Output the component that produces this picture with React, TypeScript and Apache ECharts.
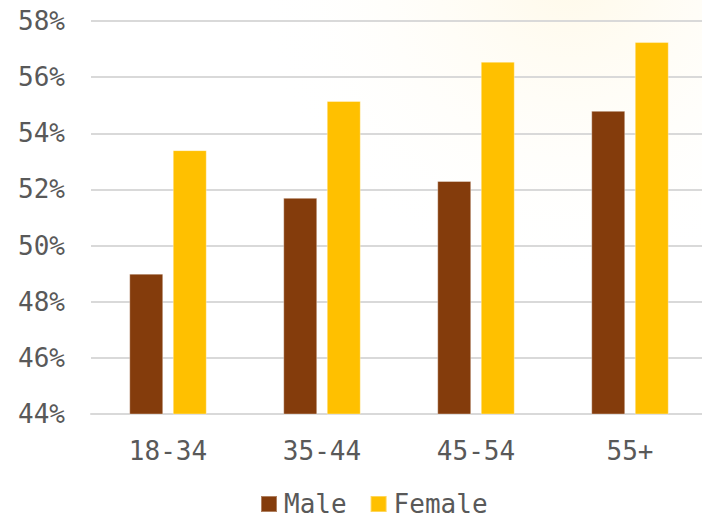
import React, { useEffect, useRef } from "react";
import * as echarts from "echarts";

const categories = ["18-34", "35-44", "45-54", "55+"];
const maleValues = [49.0, 51.7, 52.3, 54.8];
const femaleValues = [53.4, 55.15, 56.55, 57.25];
const seriesNames = ["Male", "Female"];

const FONT = "'DejaVu Sans Mono', 'Liberation Mono', monospace";

export default function App() {
  const ref = useRef<HTMLDivElement>(null);
  useEffect(() => {
    document.body.style.margin = "0";
    document.body.style.overflow = "hidden";
    if (!ref.current) return;
    const chart = echarts.init(ref.current, undefined, { renderer: "svg" });
    chart.setOption({
      animation: false,
      backgroundColor: "#ffffff",
      textStyle: { fontFamily: FONT },
      graphic: [
        {
          type: "circle",
          silent: true,
          z: -10,
          shape: { cx: 570, cy: -30, r: 320 },
          style: {
            fill: new echarts.graphic.RadialGradient(0.5, 0.5, 0.5, [
              { offset: 0, color: "rgba(255,236,180,0.3)" },
              { offset: 0.5, color: "rgba(255,245,215,0.15)" },
              { offset: 1, color: "rgba(255,255,255,0)" },
            ]),
          },
        },
      ],
      grid: {
        left: 91,
        width: 616,
        top: 21,
        height: 393,
        containLabel: false,
        outerBoundsMode: "none",
      },
      legend: {
        data: seriesNames,
        left: 260,
        top: 491,
        itemWidth: 16,
        itemHeight: 16,
        itemGap: 23,
        padding: 0,
        icon: "rect",
        textStyle: {
          fontFamily: FONT,
          fontSize: 26,
          color: "#595959",
          lineHeight: 24,
          padding: [0, 0, 0, 2],
        },
      },
      xAxis: {
        type: "category",
        data: categories,
        axisLine: { lineStyle: { color: "#D9D9D9", width: 2 } },
        axisTick: { show: false },
        axisLabel: { fontFamily: FONT, fontSize: 26, color: "#595959", margin: 24 },
      },
      yAxis: {
        type: "value",
        min: 44,
        max: 58,
        interval: 2,
        axisLine: { show: false },
        axisTick: { show: false },
        splitLine: { lineStyle: { color: "#D9D9D9", width: 2 } },
        axisLabel: {
          fontFamily: FONT,
          fontSize: 26,
          color: "#595959",
          margin: 26,
          formatter: "{value}%",
        },
      },
      series: [
        {
          name: seriesNames[0],
          type: "bar",
          data: maleValues,
          barWidth: 34,
          barGap: "28%",
          itemStyle: {
            color: "#843C0C",
            borderColor: "rgba(255,255,255,0.35)",
            borderWidth: 1,
          },
        },
        {
          name: seriesNames[1],
          type: "bar",
          data: femaleValues,
          barWidth: 34,
          barGap: "28%",
          itemStyle: {
            color: "#FFC000",
            borderColor: "rgba(255,255,255,0.35)",
            borderWidth: 1,
          },
        },
      ],
    });
    return () => chart.dispose();
  }, []);
  return (
    <div
      ref={ref}
      style={{ position: "absolute", left: 0, top: 0, width: 702, height: 520 }}
    />
  );
}
